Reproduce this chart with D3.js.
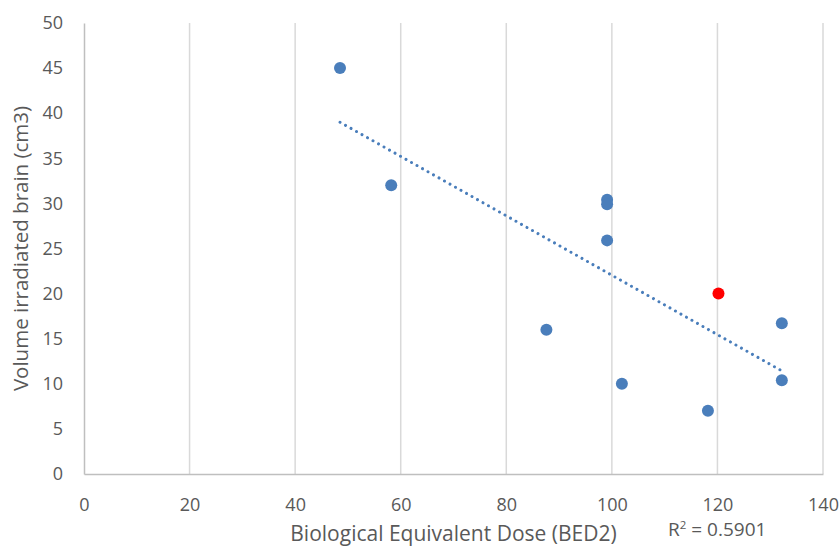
<!DOCTYPE html>
<html lang="en">
<head>
<meta charset="utf-8">
<title>BED2 vs irradiated brain volume</title>
<script src="https://cdn.jsdelivr.net/npm/d3@7/dist/d3.min.js"></script>
<style type="text/css">
  body { margin: 0; background: #fff; }
  svg { display: block; font-family: 'Open Sans', sans-serif; }
</style>
</head>
<body>
<div id="chart"></div>
<script>

/* Data */
/* ==== */

var doseBlue   = [48.5, 58.2, 87.6, 99.1, 99.1, 99.1, 101.9, 118.2, 132.2, 132.2];
var volumeBlue = [45.0, 32.0, 16.0, 30.4, 29.9, 25.9, 10.0, 7.0, 16.7, 10.4];

var doseRed   = [120.2];
var volumeRed = [20.0];

// dotted linear trendline, end points
var trendDose   = [48.5, 132];
var trendVolume = [39.0, 11.5];

var xTicks = [0, 20, 40, 60, 80, 100, 120, 140];
var yTicks = [0, 5, 10, 15, 20, 25, 30, 35, 40, 45, 50];

var xTitle = 'Biological Equivalent Dose (BED2)',
    yTitle = 'Volume irradiated brain (cm3)',
    rSquared = '0.5901';


/* Setup */
/* ===== */

var width = 839,
    height = 547,
    margin = { top: 23, right: 16, bottom: 73, left: 84 };

var svg = d3.select('#chart').append('svg')
    .attr('width', width)
    .attr('height', height);

var x = d3.scaleLinear()
    .domain([0, 140])
    .range([margin.left, width - margin.right]);

var y = d3.scaleLinear()
    .domain([0, 50])
    .range([height - margin.bottom, margin.top]);

var textColor = '#595959';


/* Grid and axes */
/* ============= */

// vertical gridlines
svg.append('g')
  .selectAll('line')
  .data(xTicks.slice(1))
  .join('line')
    .attr('x1', d => x(d)).attr('x2', d => x(d))
    .attr('y1', y(0)).attr('y2', y(50))
    .attr('stroke', '#d9d9d9')
    .attr('stroke-width', 1.5);

// x axis
var xAxis = svg.append('g')
    .attr('transform', 'translate(0,' + y(0) + ')')
    .call(d3.axisBottom(x).tickValues(xTicks).tickSize(0).tickPadding(24));

// y axis
var yAxis = svg.append('g')
    .attr('transform', 'translate(' + x(0) + ',0)')
    .call(d3.axisLeft(y).tickValues(yTicks).tickSize(0).tickPadding(21));

[xAxis, yAxis].forEach(function(g) {
  g.select('.domain').attr('stroke', '#bfbfbf').attr('stroke-width', 1.5);
  g.selectAll('text')
    .attr('fill', textColor)
    .style('font-size', '18px')
    .style('font-family', "'Open Sans', sans-serif");
});

// axis titles
svg.append('text')
    .attr('x', (x(0) + x(140)) / 2)
    .attr('y', 541)
    .attr('text-anchor', 'middle')
    .attr('fill', textColor)
    .style('font-size', '21px')
    .text(xTitle);

svg.append('text')
    .attr('transform', 'translate(28,' + (y(0) + y(50)) / 2 + ') rotate(-90)')
    .attr('text-anchor', 'middle')
    .attr('fill', textColor)
    .style('font-size', '20.5px')
    .text(yTitle);


/* Trendline */
/* ========= */

var trend = trendDose.map((d, i) => [d, trendVolume[i]]);

svg.append('path')
    .datum(trend)
    .attr('d', d3.line().x(d => x(d[0])).y(d => y(d[1])))
    .attr('fill', 'none')
    .attr('stroke', '#4a7ebb')
    .attr('stroke-width', 3)
    .attr('stroke-linecap', 'round')
    .attr('stroke-dasharray', '0.01 6.3');


/* Points */
/* ====== */

var blue = doseBlue.map((d, i) => [d, volumeBlue[i]]);
var red = doseRed.map((d, i) => [d, volumeRed[i]]);

svg.append('g')
  .selectAll('circle')
  .data(blue)
  .join('circle')
    .attr('cx', d => x(d[0]))
    .attr('cy', d => y(d[1]))
    .attr('r', 6)
    .attr('fill', '#4a7ebb');

svg.append('g')
  .selectAll('circle')
  .data(red)
  .join('circle')
    .attr('cx', d => x(d[0]))
    .attr('cy', d => y(d[1]))
    .attr('r', 6)
    .attr('fill', '#ff0000');


/* R squared label */
/* =============== */

var r2 = svg.append('text')
    .attr('x', 668)
    .attr('y', 536)
    .attr('fill', textColor)
    .style('font-size', '19px');

r2.append('tspan').text('R');
r2.append('tspan').attr('dy', -7).style('font-size', '11.5px').text('2');
r2.append('tspan').attr('dy', 7).text(' = ' + rSquared);

</script>
</body>
</html>
